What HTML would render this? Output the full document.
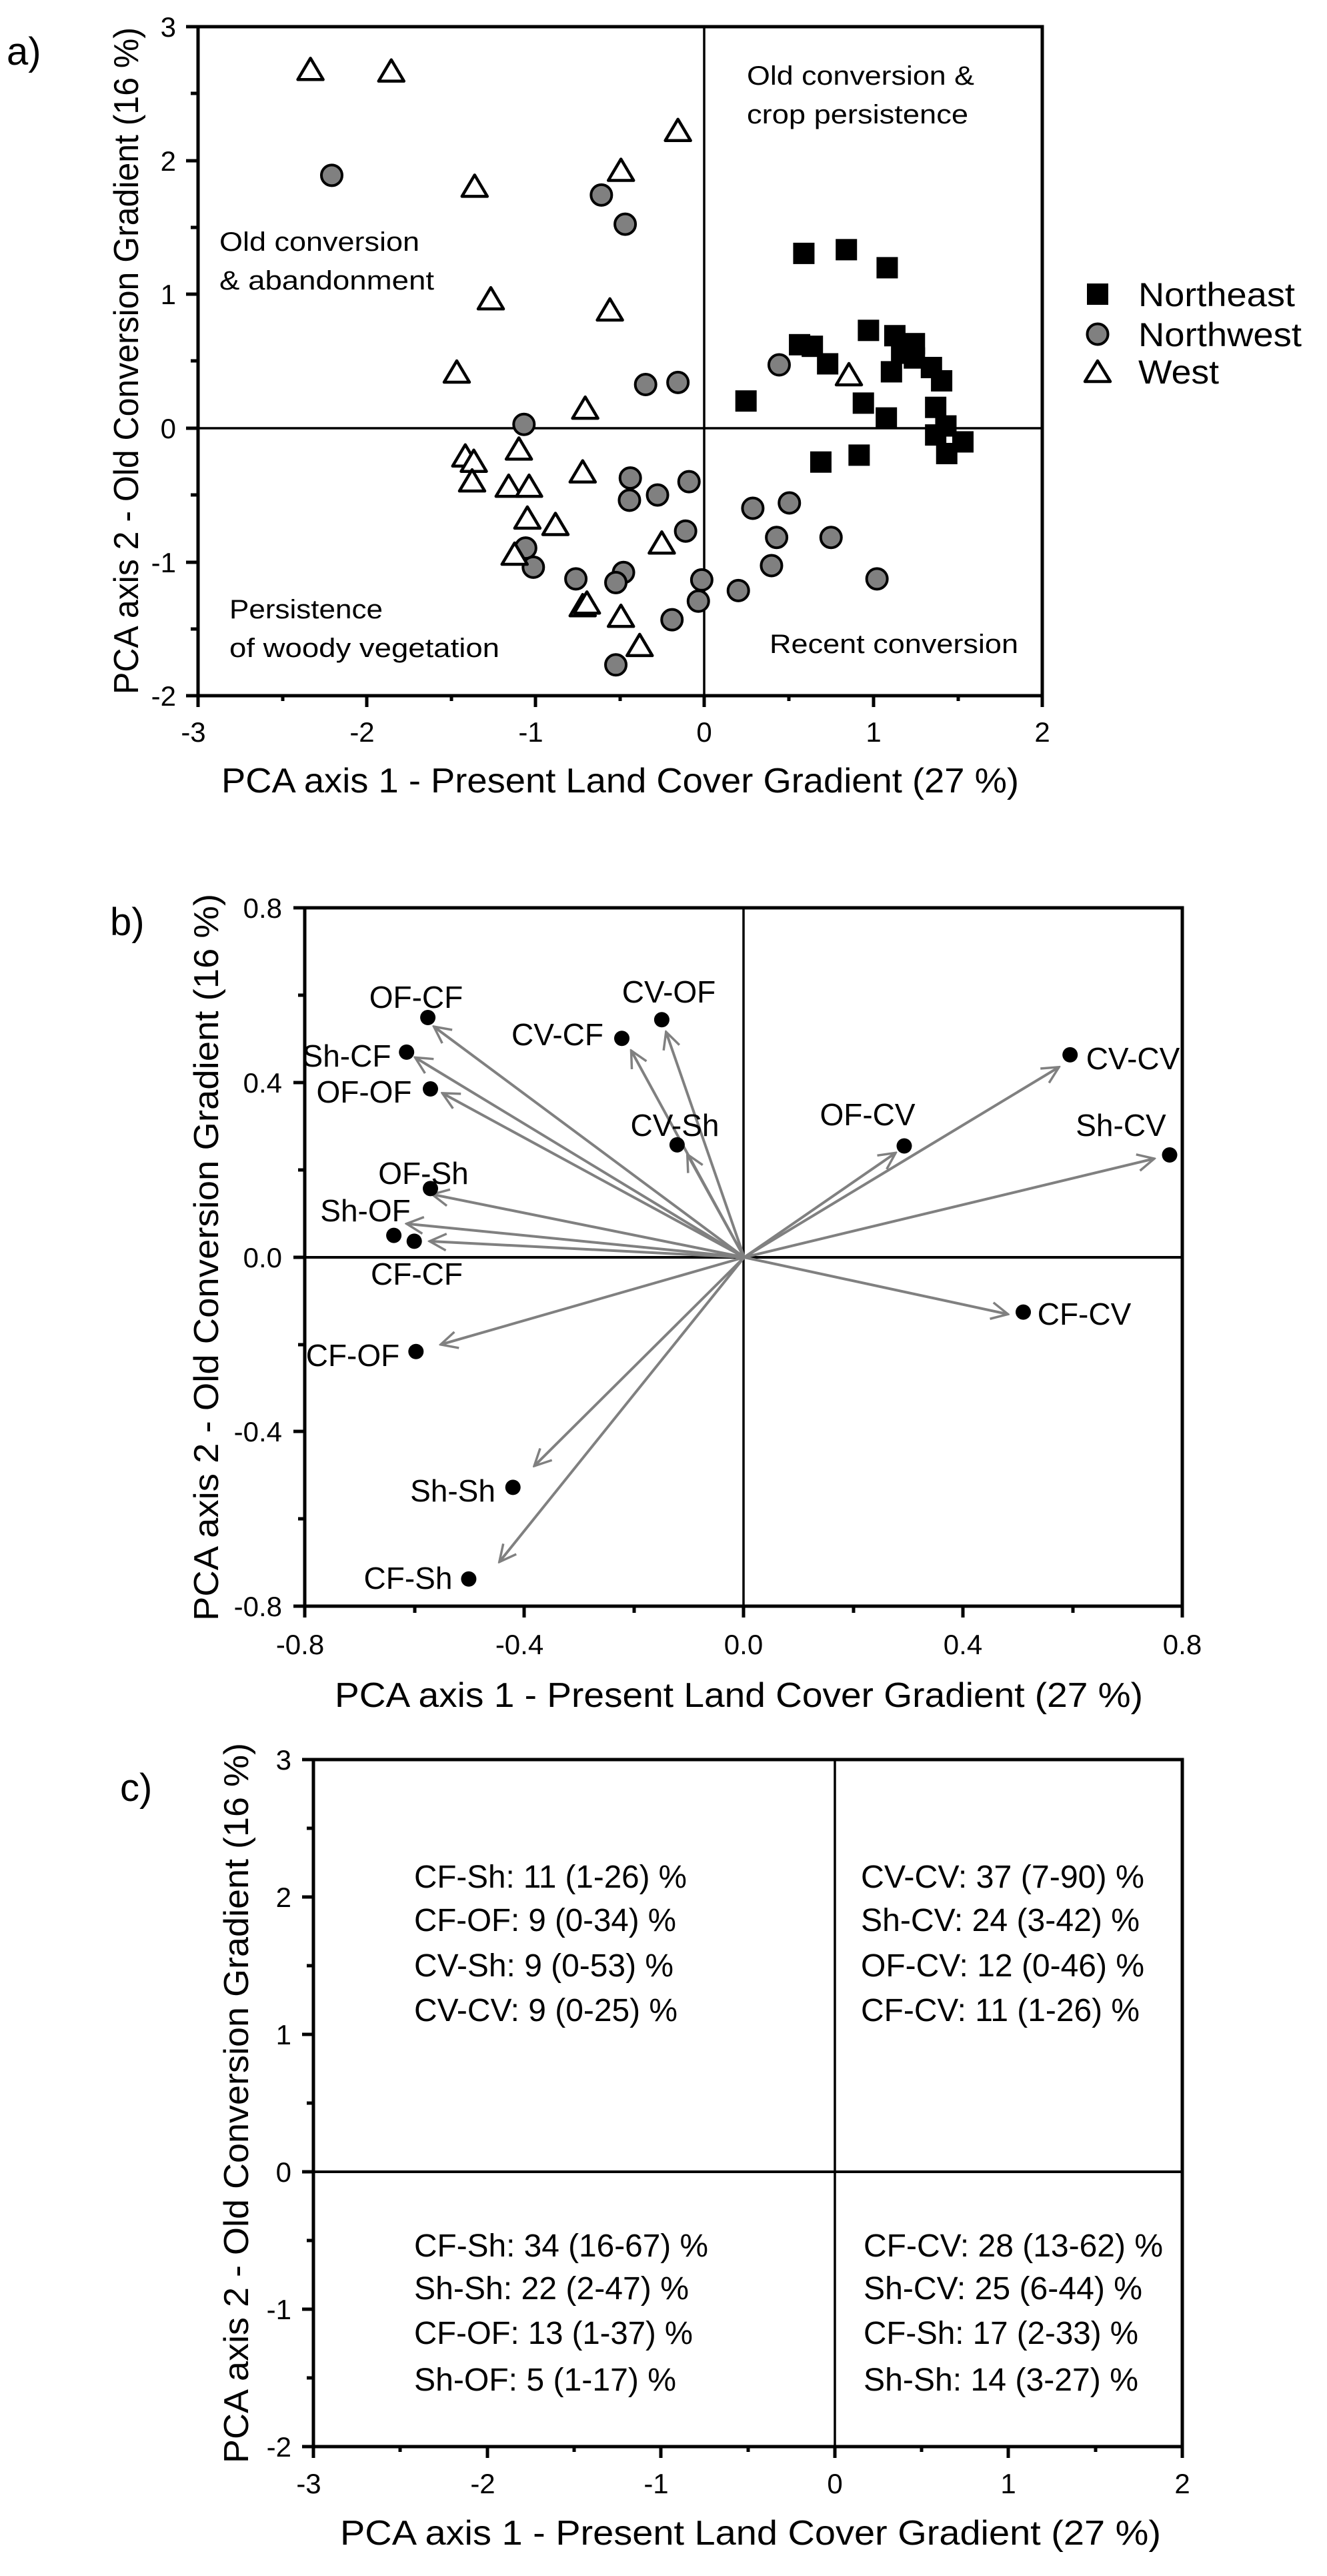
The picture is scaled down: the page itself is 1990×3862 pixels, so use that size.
<!DOCTYPE html>
<html><head><meta charset="utf-8"><style>
html,body{margin:0;padding:0;background:#fff}
svg{display:block}
text{font-family:"Liberation Sans",Arial,sans-serif;fill:#000}
</style></head><body>
<svg width="1990" height="3862" viewBox="0 0 1990 3862" xmlns="http://www.w3.org/2000/svg">
<defs>
<g id="tri"><polygon transform="scale(0.784,1.2563)" points="0,-18 19,14 -19,14" fill="#fff" stroke="#000" stroke-width="4.5" stroke-linejoin="round"/></g>
<g id="cir"><circle transform="scale(0.784,1.2563)" r="15.5" fill="#808080" stroke="#000" stroke-width="4"/></g>
<g id="sq"><rect transform="scale(0.784,1.2563)" x="-16" y="-16" width="32" height="32" fill="#000"/></g>
<marker id="ah" viewBox="0 0 12 12" refX="11" refY="6" markerWidth="30" markerHeight="30" markerUnits="userSpaceOnUse" orient="auto">
<path d="M1,1 L11,6 L1,11" fill="none" stroke="#808080" stroke-width="1.4"/>
</marker>
</defs>

<!-- ================= PANEL A ================= -->
<text x="10" y="97" font-size="58">a)</text>
<g stroke="#000" fill="none">
<rect x="297" y="40" width="1266" height="1003" stroke-width="5"/>
<line x1="297" y1="642" x2="1563" y2="642" stroke-width="3.5"/>
<line x1="1056" y1="40" x2="1056" y2="1043" stroke-width="3.5"/>
<path stroke-width="5" d="M279,40H297M279,241H297M279,441H297M279,642H297M279,843H297M279,1043H297
M286,140H297M286,341H297M286,541H297M286,742H297M286,943H297
M297,1043V1060M550,1043V1060M803,1043V1060M1056,1043V1060M1310,1043V1060M1563,1043V1060
M424,1043V1051M677,1043V1051M930,1043V1051M1183,1043V1051M1437,1043V1051"/>
</g>
<g font-size="42" text-anchor="end">
<text x="264" y="55">3</text><text x="264" y="256">2</text><text x="264" y="456">1</text>
<text x="264" y="657">0</text><text x="264" y="858">-1</text><text x="264" y="1058">-2</text>
</g>
<g font-size="42" text-anchor="middle">
<text x="290" y="1112">-3</text><text x="543" y="1112">-2</text><text x="796" y="1112">-1</text>
<text x="1056" y="1112">0</text><text x="1310" y="1112">1</text><text x="1563" y="1112">2</text>
</g>
<text x="332" y="1188" font-size="52" textLength="1196" lengthAdjust="spacingAndGlyphs">PCA axis 1 - Present Land Cover Gradient (27 %)</text>
<text transform="translate(207,541) rotate(-90)" x="0" y="0" font-size="52" text-anchor="middle" textLength="1000" lengthAdjust="spacingAndGlyphs">PCA axis 2 - Old Conversion  Gradient (16 %)</text>
<g font-size="40">
<text x="1120" y="127" textLength="341" lengthAdjust="spacingAndGlyphs">Old conversion &amp;</text>
<text x="1120" y="185" textLength="332" lengthAdjust="spacingAndGlyphs">crop persistence</text>
<text x="329" y="376" textLength="300" lengthAdjust="spacingAndGlyphs">Old conversion</text>
<text x="329" y="434" textLength="322" lengthAdjust="spacingAndGlyphs">&amp; abandonment</text>
<text x="344" y="927" textLength="230" lengthAdjust="spacingAndGlyphs">Persistence</text>
<text x="344" y="985" textLength="405" lengthAdjust="spacingAndGlyphs">of woody vegetation</text>
<text x="1154" y="979" textLength="373" lengthAdjust="spacingAndGlyphs">Recent conversion</text>
</g>
<g transform="translate(0,40) scale(1.2756,0.796) translate(0,-48)">
<use href="#sq" x="945" y="475"/><use href="#sq" x="995" y="468"/><use href="#sq" x="1043" y="502"/>
<use href="#sq" x="1021" y="620"/><use href="#sq" x="940" y="647"/><use href="#sq" x="955" y="650"/>
<use href="#sq" x="973" y="683"/><use href="#sq" x="1052" y="630"/><use href="#sq" x="1075" y="645"/>
<use href="#sq" x="1063" y="660"/><use href="#sq" x="1048" y="698"/><use href="#sq" x="1075" y="672"/>
<use href="#sq" x="1095" y="690"/><use href="#sq" x="1107" y="715"/><use href="#sq" x="1015" y="757"/>
<use href="#sq" x="877" y="753"/><use href="#sq" x="1042" y="785"/><use href="#sq" x="1100" y="765"/>
<use href="#sq" x="1112" y="800"/><use href="#sq" x="1100" y="817"/><use href="#sq" x="1132" y="830"/>
<use href="#sq" x="1113" y="852"/><use href="#sq" x="1010" y="855"/><use href="#sq" x="965" y="868"/>
<use href="#sq" x="1060" y="663"/>
<use href="#cir" x="390" y="328"/><use href="#cir" x="707" y="365"/><use href="#cir" x="735" y="420"/>
<use href="#cir" x="916" y="685"/><use href="#cir" x="759" y="722"/><use href="#cir" x="797" y="718"/>
<use href="#cir" x="616" y="797"/><use href="#cir" x="741" y="898"/><use href="#cir" x="740" y="940"/>
<use href="#cir" x="773" y="930"/><use href="#cir" x="810" y="905"/><use href="#cir" x="806" y="998"/>
<use href="#cir" x="885" y="955"/><use href="#cir" x="928" y="945"/><use href="#cir" x="913" y="1010"/>
<use href="#cir" x="977" y="1010"/><use href="#cir" x="618" y="1030"/><use href="#cir" x="627" y="1066"/>
<use href="#cir" x="677" y="1088"/><use href="#cir" x="733" y="1076"/><use href="#cir" x="724" y="1095"/>
<use href="#cir" x="825" y="1090"/><use href="#cir" x="821" y="1130"/><use href="#cir" x="868" y="1110"/>
<use href="#cir" x="907" y="1063"/><use href="#cir" x="1031" y="1088"/><use href="#cir" x="790" y="1165"/>
<use href="#cir" x="724" y="1250"/>
<use href="#tri" x="365" y="130"/><use href="#tri" x="460" y="133"/><use href="#tri" x="797" y="245"/>
<use href="#tri" x="730" y="320"/><use href="#tri" x="558" y="350"/><use href="#tri" x="577" y="562"/>
<use href="#tri" x="717" y="583"/><use href="#tri" x="537" y="700"/><use href="#tri" x="688" y="768"/>
<use href="#tri" x="547" y="858"/><use href="#tri" x="557" y="868"/><use href="#tri" x="610" y="845"/>
<use href="#tri" x="555" y="905"/><use href="#tri" x="598" y="915"/><use href="#tri" x="622" y="915"/>
<use href="#tri" x="685" y="888"/><use href="#tri" x="620" y="975"/><use href="#tri" x="653" y="987"/>
<use href="#tri" x="778" y="1022"/><use href="#tri" x="605" y="1043"/><use href="#tri" x="685" y="1140"/>
<use href="#tri" x="690" y="1135"/><use href="#tri" x="730" y="1160"/><use href="#tri" x="752" y="1215"/>
<use href="#tri" x="998" y="705"/>
</g>
<!-- legend -->
<rect x="1630" y="425" width="32" height="32" fill="#000"/>
<circle cx="1646" cy="501" r="15.5" fill="#808080" stroke="#000" stroke-width="4"/>
<polygon points="1646,541 1665,572 1627,572" fill="#fff" stroke="#000" stroke-width="4.5" stroke-linejoin="round"/>
<g font-size="50">
<text x="1707" y="459" textLength="235" lengthAdjust="spacingAndGlyphs">Northeast</text>
<text x="1707" y="519" textLength="245" lengthAdjust="spacingAndGlyphs">Northwest</text>
<text x="1707" y="575" textLength="121" lengthAdjust="spacingAndGlyphs">West</text>
</g>

<!-- ================= PANEL B ================= -->
<text x="165" y="1402" font-size="58">b)</text>
<g stroke="#000" fill="none">
<rect x="457" y="1361" width="1316" height="1047" stroke-width="5"/>
<line x1="457" y1="1885" x2="1773" y2="1885" stroke-width="4"/>
<line x1="1115" y1="1361" x2="1115" y2="2408" stroke-width="3.5"/>
<path stroke-width="5" d="M440,1361H457M440,1623H457M440,1885H457M440,2146H457M440,2408H457
M447,1492H457M447,1754H457M447,2016H457M447,2277H457
M457,2408V2425M786,2408V2425M1115,2408V2425M1444,2408V2425M1773,2408V2425
M622,2408V2418M951,2408V2418M1280,2408V2418M1609,2408V2418"/>
</g>
<g font-size="42" text-anchor="end">
<text x="423" y="1376">0.8</text><text x="423" y="1638">0.4</text><text x="423" y="1900">0.0</text>
<text x="423" y="2161">-0.4</text><text x="423" y="2423">-0.8</text>
</g>
<g font-size="42" text-anchor="middle">
<text x="450" y="2480">-0.8</text><text x="779" y="2480">-0.4</text><text x="1115" y="2480">0.0</text>
<text x="1444" y="2480">0.4</text><text x="1773" y="2480">0.8</text>
</g>
<text x="502" y="2559" font-size="52" textLength="1212" lengthAdjust="spacingAndGlyphs">PCA axis 1 - Present Land Cover Gradient (27 %)</text>
<text transform="translate(327,1885) rotate(-90)" x="0" y="0" font-size="52" text-anchor="middle" textLength="1090" lengthAdjust="spacingAndGlyphs">PCA axis 2 - Old Conversion  Gradient (16 %)</text>
<g stroke="#808080" stroke-width="4" fill="none" marker-end="url(#ah)">
<line x1="1116" y1="1885" x2="650.6" y2="1539.1"/>
<line x1="1116" y1="1885" x2="622.5" y2="1585.4"/>
<line x1="1116" y1="1885" x2="663.3" y2="1638.9"/>
<line x1="1116" y1="1885" x2="648.0" y2="1790.6"/>
<line x1="1116" y1="1885" x2="609.7" y2="1834.6"/>
<line x1="1116" y1="1885" x2="644.2" y2="1860.9"/>
<line x1="1116" y1="1885" x2="660.8" y2="2015.8"/>
<line x1="1116" y1="1885" x2="801.1" y2="2197.9"/>
<line x1="1116" y1="1885" x2="748.8" y2="2341.7"/>
<line x1="1116" y1="1885" x2="946.5" y2="1575.0"/>
<line x1="1116" y1="1885" x2="998.8" y2="1547.1"/>
<line x1="1116" y1="1885" x2="1030.7" y2="1730.7"/>
<line x1="1116" y1="1885" x2="1343.2" y2="1728.4"/>
<line x1="1116" y1="1885" x2="1588.1" y2="1599.8"/>
<line x1="1116" y1="1885" x2="1731.0" y2="1737.1"/>
<line x1="1116" y1="1885" x2="1511.6" y2="1970.3"/>
</g>
<g fill="#000">
<circle cx="641.6" cy="1525.5" r="11.5"/><circle cx="609.7" cy="1577.4" r="11.5"/>
<circle cx="645.5" cy="1632.5" r="11.5"/><circle cx="645.5" cy="1781.9" r="11.5"/>
<circle cx="590.6" cy="1852.1" r="11.5"/><circle cx="621.2" cy="1860.9" r="11.5"/>
<circle cx="623.8" cy="2026.2" r="11.5"/><circle cx="769.2" cy="2229.9" r="11.5"/>
<circle cx="702.9" cy="2367.2" r="11.5"/><circle cx="932.5" cy="1556.7" r="11.5"/>
<circle cx="992.4" cy="1528.7" r="11.5"/><circle cx="1015.4" cy="1716.4" r="11.5"/>
<circle cx="1356.0" cy="1718.0" r="11.5"/><circle cx="1604.7" cy="1581.4" r="11.5"/>
<circle cx="1754.0" cy="1731.5" r="11.5"/><circle cx="1534.5" cy="1967.1" r="11.5"/>
</g>
<g font-size="46" text-anchor="middle">
<text x="624" y="1511">OF-CF</text>
<text x="520" y="1599">Sh-CF</text>
<text x="546" y="1653">OF-OF</text>
<text x="635" y="1775">OF-Sh</text>
<text x="548" y="1831">Sh-OF</text>
<text x="625" y="1926">CF-CF</text>
<text x="529" y="2048">CF-OF</text>
<text x="679" y="2251">Sh-Sh</text>
<text x="612" y="2382">CF-Sh</text>
<text x="836" y="1567">CV-CF</text>
<text x="1003" y="1503">CV-OF</text>
<text x="1012" y="1703">CV-Sh</text>
<text x="1301" y="1687">OF-CV</text>
<text x="1699" y="1603">CV-CV</text>
<text x="1681" y="1703">Sh-CV</text>
<text x="1626" y="1986">CF-CV</text>
</g>

<!-- ================= PANEL C ================= -->
<text x="180" y="2700" font-size="58">c)</text>
<g stroke="#000" fill="none">
<rect x="470" y="2638" width="1303" height="1030" stroke-width="5"/>
<line x1="470" y1="3256" x2="1773" y2="3256" stroke-width="4"/>
<line x1="1252" y1="2638" x2="1252" y2="3668" stroke-width="3.5"/>
<path stroke-width="5" d="M453,2638H470M453,2844H470M453,3050H470M453,3256H470M453,3462H470M453,3668H470
M460,2741H470M460,2947H470M460,3153H470M460,3359H470M460,3565H470
M470,3668V3685M731,3668V3685M991,3668V3685M1252,3668V3685M1512,3668V3685M1773,3668V3685
M600,3668V3676M861,3668V3676M1122,3668V3676M1382,3668V3676M1643,3668V3676"/>
</g>
<g font-size="42" text-anchor="end">
<text x="437" y="2653">3</text><text x="437" y="2859">2</text><text x="437" y="3065">1</text>
<text x="437" y="3271">0</text><text x="437" y="3477">-1</text><text x="437" y="3683">-2</text>
</g>
<g font-size="42" text-anchor="middle">
<text x="463" y="3738">-3</text><text x="724" y="3738">-2</text><text x="984" y="3738">-1</text>
<text x="1252" y="3738">0</text><text x="1512" y="3738">1</text><text x="1773" y="3738">2</text>
</g>
<text x="510" y="3815" font-size="52" textLength="1231" lengthAdjust="spacingAndGlyphs">PCA axis 1 - Present Land Cover Gradient (27 %)</text>
<text transform="translate(372,3153) rotate(-90)" x="0" y="0" font-size="52" text-anchor="middle" textLength="1080" lengthAdjust="spacingAndGlyphs">PCA axis 2 - Old Conversion  Gradient (16 %)</text>
<g font-size="48" lengthAdjust="spacingAndGlyphs">
<text x="621" y="2830" textLength="409" lengthAdjust="spacingAndGlyphs">CF-Sh: 11 (1-26) %</text>
<text x="621" y="2895" textLength="393" lengthAdjust="spacingAndGlyphs">CF-OF: 9 (0-34) %</text>
<text x="621" y="2963" textLength="389" lengthAdjust="spacingAndGlyphs">CV-Sh: 9 (0-53) %</text>
<text x="621" y="3030" textLength="395" lengthAdjust="spacingAndGlyphs">CV-CV: 9 (0-25) %</text>
<text x="1291" y="2830" textLength="425" lengthAdjust="spacingAndGlyphs">CV-CV: 37 (7-90) %</text>
<text x="1291" y="2895" textLength="418" lengthAdjust="spacingAndGlyphs">Sh-CV: 24 (3-42) %</text>
<text x="1291" y="2963" textLength="425" lengthAdjust="spacingAndGlyphs">OF-CV: 12 (0-46) %</text>
<text x="1291" y="3030" textLength="418" lengthAdjust="spacingAndGlyphs">CF-CV: 11 (1-26) %</text>
<text x="621" y="3383" textLength="441" lengthAdjust="spacingAndGlyphs">CF-Sh: 34 (16-67) %</text>
<text x="621" y="3447" textLength="412" lengthAdjust="spacingAndGlyphs">Sh-Sh: 22 (2-47) %</text>
<text x="621" y="3514" textLength="418" lengthAdjust="spacingAndGlyphs">CF-OF: 13 (1-37) %</text>
<text x="621" y="3584" textLength="393" lengthAdjust="spacingAndGlyphs">Sh-OF: 5 (1-17) %</text>
<text x="1295" y="3383" textLength="449" lengthAdjust="spacingAndGlyphs">CF-CV: 28 (13-62) %</text>
<text x="1295" y="3447" textLength="418" lengthAdjust="spacingAndGlyphs">Sh-CV: 25 (6-44) %</text>
<text x="1295" y="3514" textLength="412" lengthAdjust="spacingAndGlyphs">CF-Sh: 17 (2-33) %</text>
<text x="1295" y="3584" textLength="412" lengthAdjust="spacingAndGlyphs">Sh-Sh: 14 (3-27) %</text>
</g>
</svg>
</body></html>
